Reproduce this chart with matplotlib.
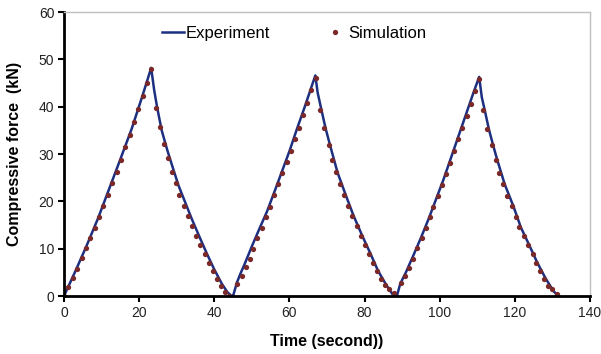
import matplotlib
matplotlib.use("Agg")
import matplotlib.pyplot as plt

plt.rcParams['font.family'] = ['Liberation Sans', 'DejaVu Sans']

# Experiment (solid line)
exp_t = [0.0, 3.0, 6.0, 9.0, 12.0, 15.0, 18.0, 21.0, 23.2,
         24.0, 24.8, 26.0, 27.5, 29.0, 30.5, 32.0, 34.0, 36.0, 38.0, 40.0, 42.0, 43.5, 44.6,
         45.0, 46.0, 47.0, 48.0, 50.0, 52.0, 54.0, 56.0, 58.0, 60.0, 62.0, 64.0, 66.0, 66.9,
         67.5, 68.5, 69.6, 70.8, 72.8, 75.0, 77.1, 79.4, 81.6, 83.6, 85.8, 87.5, 88.2,
         88.6, 89.5, 91.0, 93.0, 95.0, 97.0, 99.0, 101.0, 103.0, 105.0, 107.0, 109.0, 110.5,
         111.2, 112.0, 113.1, 114.2, 115.3, 117.3, 119.6, 121.6, 123.8, 126.0, 128.2, 130.3, 131.6]
exp_f = [0.0, 5.2, 10.6, 16.3, 22.6, 28.9, 35.3, 42.6, 48.2,
         43.5, 39.8, 35.0, 30.8, 27.0, 23.3, 20.3, 16.3, 12.6, 9.0, 5.6, 2.6, 0.8, 0.0,
         0.0, 2.8, 4.8, 6.6, 10.5, 14.2, 17.8, 22.0, 26.3, 30.6, 35.3, 39.8, 44.5, 46.6,
         43.0, 39.4, 35.5, 31.9, 26.1, 21.3, 16.9, 12.7, 8.9, 5.3, 2.3, 0.3, 0.0,
         0.0, 2.6, 5.0, 8.6, 12.3, 16.2, 20.4, 24.6, 29.2, 33.8, 38.4, 43.0, 46.3,
         42.0, 39.2, 35.2, 31.9, 28.8, 23.6, 19.0, 14.5, 10.8, 7.0, 3.7, 1.0, 0.0]

# Simulation (dots)
sim_t = [0.0, 1.1, 2.3, 3.5, 4.7, 5.9, 6.9, 8.2, 9.3, 10.5, 11.6, 12.7, 14.0, 15.2, 16.3, 17.6,
         18.6, 19.8, 20.9, 22.0, 23.1,
         24.4, 25.5, 26.5, 27.6, 28.7, 29.7, 30.7, 31.9, 32.9, 34.1, 35.1, 36.3, 37.4, 38.5,
         39.6, 40.6, 41.8, 42.9, 44.0,
         46.1, 47.3, 48.4, 49.5, 50.4, 51.5, 52.6, 53.7, 54.8, 55.9, 57.0, 58.1, 59.3, 60.3,
         61.5, 62.6, 63.7, 64.8, 65.8, 67.0,
         68.1, 69.2, 70.4, 71.4, 72.4, 73.5, 74.6, 75.7, 76.7, 77.9, 79.0, 80.1, 81.2, 82.3,
         83.2, 84.4, 85.4, 86.6, 87.7,
         89.7, 90.8, 91.9, 93.0, 94.0, 95.2, 96.3, 97.4, 98.3, 99.5, 100.5, 101.7, 102.7,
         103.8, 104.9, 106.0, 107.2, 108.2, 109.4, 110.5,
         111.6, 112.7, 113.8, 114.9, 115.9, 116.9, 118.0, 119.2, 120.2, 121.2, 122.4, 123.4,
         124.7, 125.6, 126.7, 127.8, 128.9, 130.0, 131.1]
sim_f = [0.0, 2.0, 3.9, 5.8, 8.0, 10.1, 12.2, 14.4, 16.6, 19.0, 21.4, 23.8, 26.2, 28.8, 31.5, 34.0,
         36.7, 39.5, 42.3, 45.1, 48.0,
         39.8, 35.7, 32.2, 29.1, 26.3, 23.8, 21.3, 19.0, 16.9, 14.8, 12.7, 10.7, 8.9, 7.0,
         5.3, 3.7, 2.1, 0.9, 0.1,
         2.5, 4.2, 6.2, 7.9, 10.0, 12.2, 14.3, 16.6, 18.8, 21.3, 23.6, 26.0, 28.3, 30.7,
         33.2, 35.6, 38.2, 40.8, 43.5, 46.1,
         39.4, 35.5, 31.9, 28.7, 26.1, 23.6, 21.3, 19.0, 16.9, 14.8, 12.7, 10.8, 8.9, 7.0,
         5.3, 3.7, 2.3, 1.4, 0.6,
         2.7, 4.2, 6.0, 7.9, 10.1, 12.2, 14.3, 16.6, 18.8, 21.1, 23.4, 25.7, 28.1,
         30.7, 33.1, 35.6, 38.0, 40.6, 43.3, 45.9,
         39.2, 35.2, 31.9, 28.8, 26.0, 23.6, 21.1, 19.0, 16.7, 14.5, 12.7, 10.8,
         8.9, 7.0, 5.3, 3.7, 2.2, 1.4, 0.4]

fig = plt.figure(figsize=(6.01, 3.54), dpi=100)
ax = fig.add_axes([0.1065, 0.1638, 0.8752, 0.8022])

ax.plot(exp_t, exp_f, '-', color='#1c2f80', lw=1.8, label='Experiment')
ax.plot(sim_t, sim_f, 'o', color='#7a2828', ms=3.8, mew=0, label='Simulation')

ax.set_xlim(0, 140)
ax.set_ylim(0, 60)
ax.set_xticks(range(0, 141, 20))
ax.set_yticks(range(0, 61, 10))

for s in ['top', 'right']:
    ax.spines[s].set_color('#bfbfbf')
    ax.spines[s].set_linewidth(1.0)
for s in ['left', 'bottom']:
    ax.spines[s].set_color('black')
    ax.spines[s].set_linewidth(2.0)
ax.tick_params(direction='out', length=4, width=1.5, labelsize=10, colors='black', pad=3)
for lbl in ax.get_xticklabels() + ax.get_yticklabels():
    lbl.set_color('#222222')

ax.set_xlabel('Time (second))', fontsize=11.5, fontweight='bold', labelpad=10)
ax.set_ylabel('Compressive force  (kN)', fontsize=11.5, fontweight='bold', labelpad=12)

ax.legend(loc='center left', bbox_to_anchor=(0.186, 0.926), ncol=2, frameon=False,
          fontsize=12, handlelength=1.3, handletextpad=0.15, columnspacing=3.2,
          borderaxespad=0, borderpad=0)

plt.savefig('out.png', dpi=100)
